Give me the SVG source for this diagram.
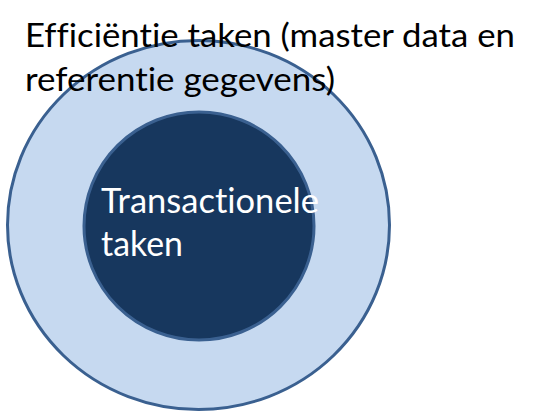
<svg xmlns="http://www.w3.org/2000/svg" width="548" height="412" viewBox="0 0 548 412">
<style>
.ring{stroke:#3a6090;stroke-width:3}
.t{font-family:"Lato","Liberation Sans",sans-serif;font-variant-ligatures:none;font-feature-settings:"liga" 0,"dlig" 0}
</style>
<rect width="548" height="412" fill="#fff"/>
<g id="outer">
<ellipse class="ring" cx="198.5" cy="225" rx="191" ry="184.5" fill="#c6d9f0"/>
</g>
<g id="inner">
<ellipse class="ring" cx="199" cy="226" rx="115" ry="114" fill="#17375e"/>
<text class="t" font-size="34" fill="#fff"><tspan x="101" y="213" textLength="218" lengthAdjust="spacingAndGlyphs">Transactionele</tspan><tspan x="101" y="256" textLength="82" lengthAdjust="spacingAndGlyphs">taken</tspan></text>
</g>
<g id="title">
<text class="t" font-size="32" fill="#000"><tspan x="25" y="47" textLength="490" lengthAdjust="spacingAndGlyphs">Efficiëntie taken (master data en</tspan><tspan x="25" y="91" textLength="310" lengthAdjust="spacingAndGlyphs">referentie gegevens)</tspan></text>
</g>
</svg>
